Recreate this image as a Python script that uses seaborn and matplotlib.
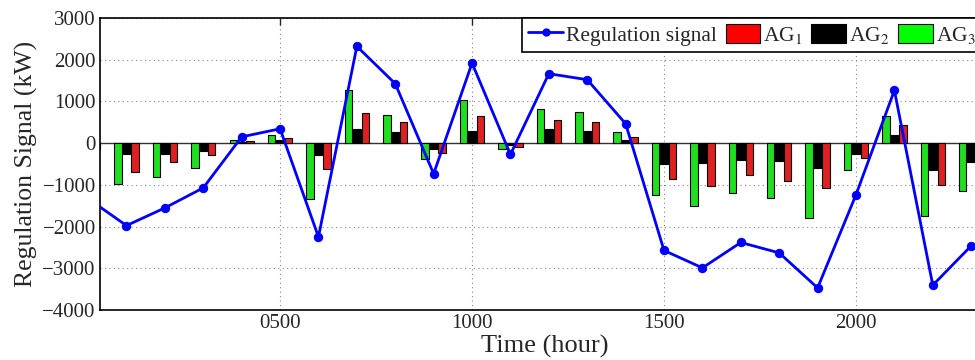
import matplotlib
matplotlib.use("Agg")
import matplotlib.pyplot as plt
from matplotlib.lines import Line2D
from matplotlib.patches import Patch
import numpy as np
import pandas as pd
import seaborn as sns

# Hourly samples
times = [0, 100, 200, 300, 400, 500, 600, 700, 800, 900, 1000, 1100,
         1200, 1300, 1400, 1500, 1600, 1700, 1800, 1900, 2000, 2100, 2200, 2300]

# Regulation signal (kW)
signal = [-1330, -1976, -1552, -1072, 151, 344, -2248, 2320, 1425, -734, 1920, -271,
          1665, 1521, 465, -2573, -2990, -2381, -2631, -3470, -1237, 1265, -3405, -2462]

# Aggregator responses (kW)
ag1 = [-150, -703, -463, -281, 56, 112, -608, 729, 497, -231, 641, -96,
       545, 513, 144, -854, -1022, -775, -919, -1087, -350, 441, -1000, -700]
ag2 = [-120, -271, -264, -185, 30, 64, -288, 345, 257, -144, 281, -55,
       329, 281, 72, -511, -480, -405, -429, -590, -255, 185, -655, -448]
ag3 = [-400, -990, -823, -600, 72, 184, -1328, 1265, 681, -375, 1025, -135,
       809, 737, 257, -1237, -1518, -1206, -1319, -1789, -655, 641, -1751, -1151]

ag_names = ["AG$_1$", "AG$_2$", "AG$_3$"]
ag_colors = {"AG$_1$": "#ff0000", "AG$_2$": "#000000", "AG$_3$": "#00ff00"}

bars = pd.DataFrame({
    "time": times * 3,
    "power": ag1 + ag2 + ag3,
    "group": [ag_names[0]] * len(times) + [ag_names[1]] * len(times) + [ag_names[2]] * len(times),
})

sns.set_style("white")
plt.rcParams["font.family"] = ["Liberation Serif", "DejaVu Serif"]
plt.rcParams["mathtext.fontset"] = "stix"

fig = plt.figure(figsize=(9.75, 3.6), dpi=100)
ax = fig.add_axes([100 / 975, 50 / 360, 890 / 975, 292 / 360])

sns.barplot(data=bars, x="time", y="power", hue="group",
            hue_order=["AG$_3$", "AG$_2$", "AG$_1$"], palette=ag_colors,
            native_scale=True, width=0.66, gap=0.12, errorbar=None,
            edgecolor="black", linewidth=0.8, legend=False, ax=ax, zorder=3)

ax.axhline(0, color="#333333", lw=1.0, zorder=2)

sns.lineplot(x=times, y=signal, color="#0000ff", lw=2.0, marker="o",
             markersize=6, markeredgecolor="#0000ff", ax=ax, zorder=4)

ax.set_xlim(31, 2349)
ax.set_ylim(-4000, 3000)
ax.set_yticks(np.arange(-4000, 3001, 1000))
ax.set_xticks([500, 1000, 1500, 2000])
ax.set_xticklabels(["0500", "1000", "1500", "2000"])
ax.grid(True, linestyle=(0, (1, 3)), color="#888888", lw=0.8, zorder=0)
ax.tick_params(direction="in", top=True, right=True, length=5, width=1,
               labelsize=15, pad=3)
for s in ax.spines.values():
    s.set_color("black")
    s.set_linewidth(1.2)

ax.set_xlabel("Time (hour)", fontsize=19, labelpad=1)
ax.set_ylabel("Regulation Signal (kW)", fontsize=18.5, labelpad=3)

handles = [
    Line2D([0], [0], color="#0000ff", lw=2, marker="o", markersize=5),
    Patch(facecolor=ag_colors["AG$_1$"], edgecolor="black", lw=0.8),
    Patch(facecolor=ag_colors["AG$_2$"], edgecolor="black", lw=0.8),
    Patch(facecolor=ag_colors["AG$_3$"], edgecolor="black", lw=0.8),
]
labels = ["Regulation signal"] + ag_names
leg = fig.legend(handles, labels, loc="upper left",
                 bbox_to_anchor=(522 / 975, 1 - 17.5 / 360), ncol=4,
                 fontsize=15.5, frameon=True, fancybox=False, framealpha=1,
                 edgecolor="black", handlelength=1.6, handleheight=1.0,
                 handletextpad=0.15, columnspacing=0.4, borderpad=0.3,
                 borderaxespad=0)
leg.get_frame().set_linewidth(1.2)

fig.savefig("out.png", dpi=100)
